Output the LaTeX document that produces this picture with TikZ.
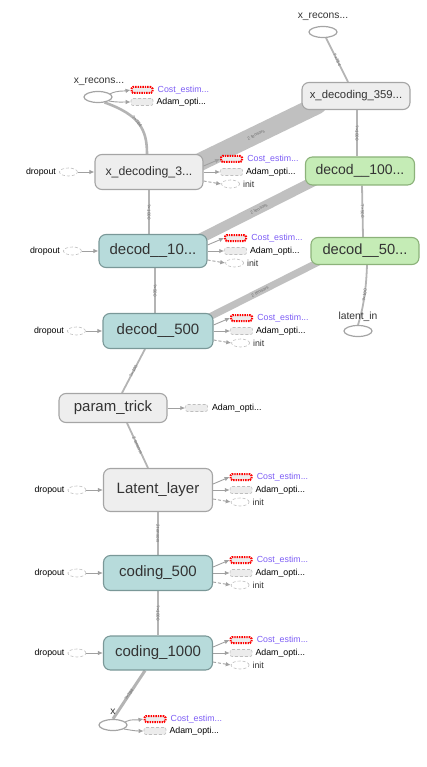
\documentclass[tikz,border=0pt]{standalone}
\usepackage{fontspec}
\setmainfont{Liberation Sans}
\usetikzlibrary{arrows.meta,shapes.geometric,calc}

\definecolor{opfill}{RGB}{238,238,238}
\definecolor{opline}{RGB}{165,165,165}
\definecolor{tealfill}{RGB}{183,219,219}
\definecolor{tealline}{RGB}{122,152,152}
\definecolor{greenfill}{RGB}{197,236,182}
\definecolor{greenline}{RGB}{140,178,122}
\definecolor{txt}{RGB}{51,51,51}
\definecolor{costtxt}{RGB}{124,92,245}
\definecolor{auxline}{RGB}{190,190,190}
\definecolor{auxfill}{RGB}{236,236,236}
\definecolor{arrowgray}{RGB}{160,160,160}
\definecolor{edgegray}{RGB}{180,180,180}
\definecolor{bandgray}{RGB}{192,192,192}
\definecolor{elabgray}{RGB}{110,110,110}

\pgfdeclarelayer{bg}
\pgfsetlayers{bg,main}

\tikzset{
  op/.style={draw=opline, fill=opfill, line width=1.1pt, rounded corners=7pt,
    minimum width=108pt, minimum height=34pt, inner sep=0pt, text=txt,
    font=\fontsize{15}{18}\selectfont},
  tealop/.style={op, fill=tealfill, draw=tealline},
  greenop/.style={op, fill=greenfill, draw=greenline},
  costbox/.style={draw=red, line width=2pt, dash pattern=on 1.4pt off 1pt,
    fill=auxfill, minimum width=21pt, minimum height=6pt, inner sep=0pt, rounded corners=1.5pt},
  adambox/.style={draw=auxline, densely dashed, line width=0.6pt, fill=auxfill,
    minimum width=22pt, minimum height=7pt, inner sep=0pt, rounded corners=2pt},
  auxell/.style={ellipse, draw=auxline, densely dashed, line width=0.6pt, fill=white,
    minimum width=18pt, minimum height=8pt, inner sep=0pt},
  tensor/.style={ellipse, draw=opline, line width=1.2pt, fill=white,
    minimum width=28pt, minimum height=11pt, inner sep=0pt},
  lbl/.style={font=\fontsize{8.8}{10}\selectfont, inner sep=0pt, anchor=west, text=black},
  tlbl/.style={font=\fontsize{10.3}{12}\selectfont, inner sep=0pt, text=txt},
  sidearrow/.style={draw=arrowgray, line width=0.9pt, -{Latex[length=5pt,width=4.5pt]}},
  flow/.style={draw=edgegray, line width=1.8pt},
  band/.style={draw=bandgray, line cap=round},
  elab/.style={font=\fontsize{4.5}{5}\selectfont, text=elabgray, sloped, inner sep=0.5pt}
}

\begin{document}
\begin{tikzpicture}[x=1pt,y=-1pt]
\useasboundingbox (0,0) rectangle (427,767);

% ---- operation nodes, left column ----
\node[op, font=\fontsize{12.3}{14}\selectfont, minimum height=35pt] (xd3) at (149,172) {x\_decoding\_3...};
\node[tealop, minimum height=33pt] (d10) at (153,251) {decod\_\_10...};
\node[tealop, minimum width=110pt, minimum height=35pt] (d500) at (158,331) {decod\_\_500};
\node[op, minimum height=29pt] (pt) at (113,408) {param\_trick};
\node[op, minimum width=109pt, minimum height=43pt] (lat) at (158,490) {Latent\_layer};
\node[tealop, minimum width=109pt, minimum height=35pt] (c500) at (158,573) {coding\_500};
\node[tealop, minimum width=109pt, minimum height=34pt] (c1000) at (158,653) {coding\_1000};

% ---- operation nodes, right column ----
\node[op, font=\fontsize{11.3}{13}\selectfont, minimum height=27pt] (xd359) at (356,96) {x\_decoding\_359...};
\node[greenop, minimum width=109pt, minimum height=28pt, font=\fontsize{14}{16}\selectfont] (g100) at (360,171) {decod\_\_100...};
\node[greenop, minimum width=108pt, minimum height=27pt, font=\fontsize{14.7}{16}\selectfont] (g50) at (365,251) {decod\_\_50...};

% ---- tensors ----
\node[tensor] (xrl) at (98,97) {};
\node[tlbl] at (99,82) {x\_recons...};
\node[tensor] (xrr) at (323,32) {};
\node[tlbl] at (323,17) {x\_recons...};
\node[tensor] (lin) at (358,331) {};
\node[tlbl] at (358,317) {latent\_in};
\node[tensor] (xin) at (113,725) {};
\node[tlbl] at (113,712) {x};

% ---- cost / optimizer / init attachments ----
\foreach \n in {xd3,d10,d500,lat,c500,c1000}{
  \node[costbox] (\n-cost) at ($(\n.east)+(28,-13)$) {};
  \node[adambox] (\n-adam) at ($(\n.east)+(28,0)$) {};
  \node[auxell] (\n-init) at ($(\n.east)+(27,12)$) {};
  \node[lbl, text=costtxt] at ($(\n-cost.east)+(4,0)$) {Cost\_estim...};
  \node[lbl] at ($(\n-adam.east)+(3,0)$) {Adam\_opti...};
  \node[lbl, text=txt] at ($(\n-init.east)+(3,0)$) {init};
  \draw[sidearrow] ([yshift=6pt]\n.east) -- (\n-cost.west);
  \draw[sidearrow] (\n.east) -- (\n-adam.west);
  \draw[sidearrow, densely dashed] ([yshift=-9pt]\n.east) -- (\n-init.west);
  % dropout input
  \node[auxell] (\n-drop) at ($(\n.west)+(-26,0)$) {};
  \node[lbl, anchor=east] at ($(\n-drop.west)+(-3,0)$) {dropout};
  \draw[sidearrow] (\n-drop) -- (\n.west);
}

\node[adambox] (pt-adam) at ($(pt.east)+(29,0)$) {};
\node[lbl] at ($(pt-adam.east)+(4,0)$) {Adam\_opti...};
\draw[sidearrow] (pt) -- (pt-adam);

\node[costbox] (xrl-cost) at (142,90) {};
\node[adambox] (xrl-adam) at (142,102) {};
\node[lbl, text=costtxt] at ($(xrl-cost.east)+(4,0)$) {Cost\_estim...};
\node[lbl] at ($(xrl-adam.east)+(3,0)$) {Adam\_opti...};
\draw[sidearrow] (xrl.15) to[out=25,in=190] (xrl-cost.west);
\draw[sidearrow] (xrl.-20) to[out=-10,in=180] (xrl-adam.west);

\node[costbox] (xin-cost) at (155,719) {};
\node[adambox] (xin-adam) at (155,731) {};
\node[lbl, text=costtxt] at ($(xin-cost.east)+(4,0)$) {Cost\_estim...};
\node[lbl] at ($(xin-adam.east)+(3,0)$) {Adam\_opti...};
\draw[sidearrow] (xin.15) to[out=25,in=190] (xin-cost.west);
\draw[sidearrow] (xin.-20) to[out=-10,in=180] (xin-adam.west);

% ---- data-flow edges and bundled tensors, drawn behind the nodes ----
\begin{pgfonlayer}{bg}
  \draw[band, line width=18pt] ($(xd3.east)+(-14,-5)$) -- node[elab, pos=0.52]{2 tensors} ($(xd359.south west)+(16,-5)$);
  \draw[band, line width=10pt] ($(d10.north east)+(-14,8)$) -- node[elab, pos=0.53]{2 tensors} ($(g100.south west)+(12,-6)$);
  \draw[band, line width=7pt] ($(d500.north east)+(-16,10)$) -- node[elab, pos=0.5]{2 tensors} ($(g50.south west)+(12,-5)$);

  \draw[flow, line width=2.6pt] (xrl.-40) .. controls (140,115) and (147,130) .. node[elab, pos=0.45]{?×784} ([xshift=-2pt]xd3.north);
  \draw[flow] (xd3.south) -- node[elab]{?×1000} (d10.north -| xd3.south);
  \draw[flow] ([xshift=2pt]d10.south) -- node[elab]{?×500} ([xshift=-3pt]d500.north);
  \draw[flow] ([xshift=-13pt]d500.south) -- node[elab]{?×100} ([xshift=9pt]pt.north);
  \draw[flow] ([xshift=14pt]pt.south) -- node[elab]{2 tensors} ([xshift=-10pt]lat.north);
  \draw[flow] (lat) -- node[elab]{2 tensors} (c500);
  \draw[flow] (c500) -- node[elab]{?×1000} (c1000);
  \draw[flow, line width=3pt] ([xshift=-13pt]c1000.south) -- node[elab]{?×784} (xin.north);

  \draw[flow] (xrr) -- node[elab]{?×784} ([xshift=-8pt]xd359.north);
  \draw[flow] ([xshift=1pt]xd359.south) -- node[elab]{?×1000} ([xshift=-3pt]g100.north);
  \draw[flow] ([xshift=2pt]g100.south) -- node[elab]{?×500} ([xshift=-2pt]g50.north);
  \draw[flow] ([xshift=2pt]g50.south) .. controls (366,295) and (362,312) .. node[elab, pos=0.4]{?×100} (lin.north);
\end{pgfonlayer}
\end{tikzpicture}
\end{document}
